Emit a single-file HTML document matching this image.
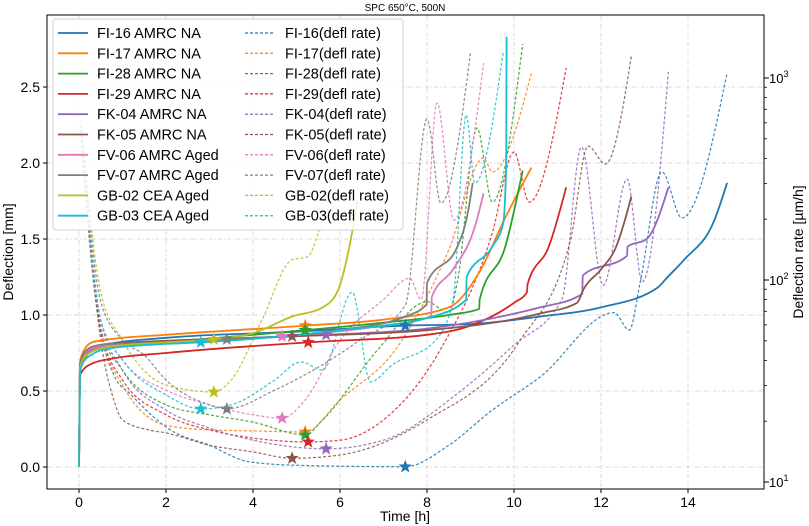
<!DOCTYPE html>
<html><head><meta charset="utf-8"><style>
html,body{margin:0;padding:0;background:#fff;}
svg{display:block;font-family:"Liberation Sans",sans-serif;}
</style></head><body>
<svg id="chart" width="809" height="526" viewBox="0 0 809 526" xmlns="http://www.w3.org/2000/svg">
<text x="405" y="11" font-size="10" text-anchor="middle" fill="#000">SPC 650°C, 500N</text>
<defs><clipPath id="pc"><rect x="47" y="15" width="717" height="474"/></clipPath></defs>
<g id="grid"></g>
<g id="series" clip-path="url(#pc)"></g>
<rect x="47" y="15" width="717" height="474" fill="none" stroke="#000" stroke-width="1"/>
<g id="axes"></g>
<g id="legend"></g>
<text x="405" y="521" font-size="14" text-anchor="middle">Time [h]</text>
<text x="0" y="0" font-size="14" text-anchor="middle" transform="translate(13,252) rotate(-90)">Deflection [mm]</text>
<text x="0" y="0" font-size="14" text-anchor="middle" transform="translate(803,252) rotate(-90)">Deflection rate [µm/h]</text>
</svg>
<script>
const names = ["FI-16","FI-17","FI-28","FI-29","FK-04","FK-05","FV-06","FV-07","GB-02","GB-03"];
const labels = ["FI-16 AMRC NA","FI-17 AMRC NA","FI-28 AMRC NA","FI-29 AMRC NA","FK-04 AMRC NA","FK-05 AMRC NA","FV-06 AMRC Aged","FV-07 AMRC Aged","GB-02 CEA Aged","GB-03 CEA Aged"];
const colors = ["#1f77b4","#ff7f0e","#2ca02c","#d62728","#9467bd","#8c564b","#e377c2","#7f7f7f","#bcbd22","#17becf"];
const xTicks = [0,2,4,6,8,10,12,14];
const yTicks = [0.0,0.5,1.0,1.5,2.0,2.5];
const y2Ticks = [10,100,1000];
const y2TickLabels = ["1","2","3"];

const defT = [
 [0,0.02,0.1,0.3,0.7,2,5,7.5,9,10.6,12,13.3,13.5,13.9,14.6,14.9],
 [0,0.02,0.1,0.3,0.7,2,5.2,7,8.5,9.2,9.8,10.4],
 [0,0.02,0.1,0.3,0.7,2,5.2,7,8.5,9.2,9.21,9.8,10.2],
 [0,0.02,0.1,0.3,0.7,2,5.27,8,9,10,10.3,10.31,10.8,11.2],
 [0,0.02,0.1,0.3,0.7,2,5.68,8,10.6,11.45,11.57,11.58,12.6,12.61,13.05,13.55],
 [0,0.02,0.1,0.3,0.7,2,4.9,8,10.6,11.45,11.6,12,12.35,12.7],
 [0,0.02,0.1,0.3,0.7,2,4.67,7,8.0,8.1,8.11,8.6,9.1,9.3],
 [0,0.02,0.1,0.3,0.7,2,3.4,6,7.5,7.99,8.0,8.7,8.95,9.05],
 [0,0.02,0.1,0.3,0.7,2,3.1,4,4.9,5.6,5.95,6.23,6.4],
 [0,0.02,0.1,0.3,0.7,2,2.8,6,8,8.9,8.91,9.5,9.75,9.82,9.83]
];
const defV = [
 [0,0.63,0.72,0.78,0.81,0.85,0.89,0.93,0.94,0.99,1.05,1.18,1.24,1.36,1.62,1.87],
 [0,0.68,0.76,0.82,0.84,0.87,0.93,0.97,1.05,1.28,1.64,1.97],
 [0,0.63,0.7,0.76,0.79,0.82,0.9,0.95,1.0,1.04,1.1,1.45,1.95],
 [0,0.6,0.64,0.68,0.71,0.75,0.82,0.87,0.93,1.08,1.15,1.2,1.45,1.84],
 [0,0.65,0.72,0.77,0.8,0.82,0.87,0.91,1.05,1.12,1.14,1.26,1.39,1.45,1.5,1.84],
 [0,0.66,0.74,0.79,0.81,0.83,0.86,0.9,1.01,1.08,1.17,1.3,1.45,1.78],
 [0,0.65,0.73,0.78,0.8,0.82,0.86,0.93,0.98,1.0,1.12,1.3,1.58,1.8],
 [0,0.67,0.74,0.79,0.81,0.82,0.84,0.9,0.99,1.07,1.21,1.45,1.69,1.87],
 [0,0.64,0.71,0.76,0.79,0.82,0.84,0.88,0.99,1.05,1.16,1.47,1.75],
 [0,0.62,0.69,0.74,0.78,0.81,0.82,0.9,0.98,1.1,1.25,1.45,1.6,2.0,2.83]
];
const rateT = [
 [0.05,0.4,0.8,1.2,2.1,3,3.9,5,7.5,8.5,9.5,10.6,12.3,12.65,12.9,13.4,13.86,14.9],
 [0.05,0.5,1,2,3,4,5.2,6,7.3,8.5,9.3,9.5,10.4],
 [0.05,0.5,1,2,3,4,5.2,5.6,6.9,8.0,8.5,8.7,9.15,9.5,10.2],
 [0.05,0.5,1,2,3,4,5.27,6,7,8.3,9.5,10.0,10.35,11.2],
 [0.05,0.5,1,2,3,4,5.68,7,8.8,10,11.1,11.55,12.05,12.6,12.95,13.55],
 [0.05,0.5,0.8,1,1.6,2,3,4,4.9,6,8,10.1,11.3,11.7,12.1,12.7],
 [0.05,0.5,1,2,3,4,4.67,5.2,6,7,7.6,7.87,8.23,8.62,9.3],
 [0.05,0.5,1,1.5,2,3,3.4,4.5,6.46,7.5,8.0,8.32,9.0],
 [0.05,0.5,1,2,3.1,3.5,4.2,4.9,5.25,5.5,6.35],
 [0.05,0.5,1,2,2.8,3.5,4.5,5.1,5.6,6.28,6.7,7.2,8.2,8.6,8.9,9.1,9.75]
];
const rateV = [
 [585,78,33.9,27,18.1,15.2,12.6,12.1,11.9,15.2,22.7,33.1,69,56.5,97,343,203,1059],
 [553,56.5,30.2,19.1,18.1,17.9,17.7,25.5,46,141,402,343,1059],
 [493,56.5,35.8,24.1,21.5,19.8,17.1,20.3,46,78,69,98,565,243,1472],
 [522,56.5,32,21.5,18.1,16.5,15.8,16.1,20.3,45,171,430,243,1122],
 [553,63,35.8,22.7,18.5,16.1,14.6,16.1,28.5,47.6,80,455,94,316,98,1072],
 [553,50.4,25.5,20.3,18.1,17.5,15.2,14.1,13.1,13.6,20.3,48.8,158,460,375,1285],
 [553,63,40.2,28.5,24.1,21.5,20.7,25.5,50.4,80,102,80,752,198,1186],
 [585,78,50.4,42.5,32,24.1,23,28.5,50.4,75,627,240,1331],
 [620,87,50.4,30.2,27.9,32,63,126,130,171,1542],
 [585,63,40.2,27,23,24.1,32,39.3,35.8,87,31.3,38,50.4,80,656,302,1331]
];
const starT = [7.5,5.2,5.2,5.27,5.68,4.9,4.67,3.4,3.1,2.8];
const starDef = [0.93,0.93,0.9,0.82,0.87,0.86,0.86,0.84,0.84,0.82];
const starRate = [11.9,17.7,17.1,15.8,14.6,13.1,20.7,23,27.9,23];

const NS="http://www.w3.org/2000/svg";
function xS(t){return 79+43.5*t;}
function yS(d){return 467-152*d;}
function y2S(r){return 482-202*(Math.log10(r)-1);}
function mk(tag,attrs,parent){const e=document.createElementNS(NS,tag);for(const k in attrs)e.setAttribute(k,attrs[k]);parent.appendChild(e);return e;}
function monotone(px,py){
  const n=px.length;if(n<2)return "";
  const h=[],s=[];
  for(let i=0;i<n-1;i++){h.push(px[i+1]-px[i]);s.push((py[i+1]-py[i])/(px[i+1]-px[i]));}
  const m=new Array(n);
  for(let i=1;i<n-1;i++){
    const s0=s[i-1],s1=s[i],h0=h[i-1],h1=h[i];
    const p=(s0*h1+s1*h0)/(h0+h1);
    m[i]=(Math.sign(s0)+Math.sign(s1))*Math.min(Math.abs(s0),Math.abs(s1),0.5*Math.abs(p))||0;
  }
  if(n===2){m[0]=s[0];m[1]=s[0];}
  else{m[0]=(3*s[0]-m[1])/2;m[n-1]=(3*s[n-2]-m[n-2])/2;}
  let d="M"+px[0].toFixed(1)+","+py[0].toFixed(1);
  for(let i=0;i<n-1;i++){
    const dx=h[i]/3;
    d+="C"+(px[i]+dx).toFixed(1)+","+(py[i]+m[i]*dx).toFixed(1)+" "+(px[i+1]-dx).toFixed(1)+","+(py[i+1]-m[i+1]*dx).toFixed(1)+" "+px[i+1].toFixed(1)+","+py[i+1].toFixed(1);
  }
  return d;
}
function starPts(cx,cy,R){const r=R*0.42;let p=[];for(let i=0;i<10;i++){const a=-Math.PI/2+i*Math.PI/5;const rr=i%2?r:R;p.push((cx+rr*Math.cos(a)).toFixed(1)+","+(cy+rr*Math.sin(a)).toFixed(1));}return p.join(" ");}

const grid=document.getElementById("grid"),axes=document.getElementById("axes"),ser=document.getElementById("series"),leg=document.getElementById("legend");
xTicks.forEach(t=>{
  const x=xS(t);
  const g=mk("line",{x1:x,x2:x,y1:15,y2:489,stroke:"#d8d8d8","stroke-width":1,"stroke-dasharray":"4,2,1,2"},grid);
  
  
  const tk=mk("line",{x1:x,x2:x,y1:489,y2:493,stroke:"#000"},axes);
  
  
  const tx=mk("text",{x:x,y:507,"font-size":14,"text-anchor":"middle"},axes);tx.textContent=String(t);
  
  
});
yTicks.forEach(v=>{
  const y=yS(v);
  const g=mk("line",{x1:47,x2:764,y1:y,y2:y,stroke:"#d8d8d8","stroke-width":1,"stroke-dasharray":"4,2,1,2"},grid);
  
  
  const tk=mk("line",{x1:43,x2:47,y1:y,y2:y,stroke:"#000"},axes);
  
  
  const tx=mk("text",{x:40,y:y+5,"font-size":14,"text-anchor":"end"},axes);tx.textContent=v.toFixed(1);
  
  
});
y2Ticks.forEach((r,i)=>{
  const y=y2S(r);
  const tk=mk("line",{x1:764,x2:769,y1:y,y2:y,stroke:"#000"},axes);
  
  
  const tx=mk("text",{x:769,y:y+5,"font-size":13},axes);
  
  
  tx.textContent="10";
  const sp=mk("tspan",{dy:-6,"font-size":9},tx);sp.textContent=y2TickLabels[i];
  if(i<y2Ticks.length-1){for(let k=2;k<10;k++){const ym=y2S(r*k);const mt=mk("line",{x1:764,x2:767,y1:ym,y2:ym,stroke:"#000","stroke-width":0.8},axes);
    
    }}
});
for(let k=2;k<10;k++){const ym=y2S(k);if(ym<489){const mt=mk("line",{x1:764,x2:767,y1:ym,y2:ym,stroke:"#000","stroke-width":0.8},axes);
  
  }}

for(let i=0;i<names.length;i++){
  const p=mk("path",{d:monotone(rateT[i].map(xS),rateV[i].map(y2S)),fill:"none",stroke:colors[i],"stroke-width":1.25,"stroke-dasharray":"3,2","stroke-opacity":0.85},ser);
  
  
}
for(let i=0;i<names.length;i++){
  const p=mk("path",{d:monotone(defT[i].map(xS),defV[i].map(yS)),fill:"none",stroke:colors[i],"stroke-width":1.8},ser);
  
  
}
for(let i=0;i<names.length;i++){
  const s1=mk("polygon",{points:starPts(xS(starT[i]),yS(starDef[i]),7),fill:colors[i]},ser);
  
  
  const s2=mk("polygon",{points:starPts(xS(starT[i]),y2S(starRate[i]),7),fill:colors[i]},ser);
  
  
}

const box=mk("rect",{x:53,y:19,width:350,height:211,rx:3,fill:"#fff","fill-opacity":0.85,stroke:"#d0d0d0"},leg);


for(let i=0;i<names.length;i++){
  const y=33+i*20.3;
  const l1=mk("line",{x1:58,x2:88,y1:y,y2:y,stroke:colors[i],"stroke-width":1.8},leg);
  
  
  const t1=mk("text",{x:97,y:y+5,"font-size":14.5},leg);t1.textContent=labels[i];
  
  
  const l2=mk("line",{x1:245,x2:273,y1:y,y2:y,stroke:colors[i],"stroke-width":1.25,"stroke-dasharray":"3,2"},leg);
  
  
  const t2=mk("text",{x:285,y:y+5,"font-size":14.5},leg);t2.textContent=names[i]+"(defl rate)";
  
  
}
</script>
</body></html>
